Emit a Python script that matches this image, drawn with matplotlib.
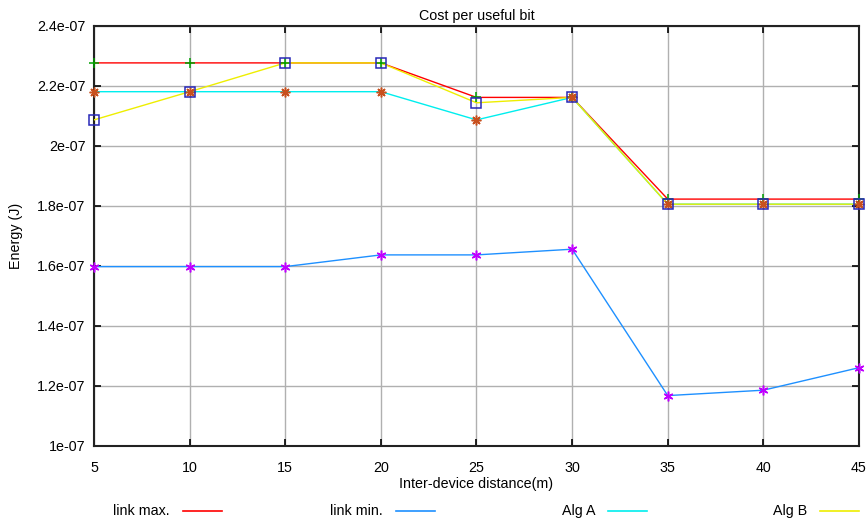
import numpy as np
import matplotlib.pyplot as plt
from matplotlib.lines import Line2D

plt.rcParams['font.family'] = ['Liberation Sans', 'DejaVu Sans']

# distances (m) and energy per useful bit (J)
distance = [5, 10, 15, 20, 25, 30, 35, 40, 45]
link_max = [2.277e-7, 2.277e-7, 2.277e-7, 2.277e-7, 2.162e-7, 2.162e-7, 1.823e-7, 1.823e-7, 1.823e-7]
link_min = [1.598e-7, 1.598e-7, 1.598e-7, 1.637e-7, 1.637e-7, 1.656e-7, 1.168e-7, 1.186e-7, 1.261e-7]
alg_a = [2.181e-7, 2.181e-7, 2.181e-7, 2.181e-7, 2.087e-7, 2.162e-7, 1.806e-7, 1.806e-7, 1.806e-7]
alg_b = [2.087e-7, 2.181e-7, 2.277e-7, 2.277e-7, 2.144e-7, 2.162e-7, 1.806e-7, 1.806e-7, 1.806e-7]

yticks = [1e-7, 1.2e-7, 1.4e-7, 1.6e-7, 1.8e-7, 2e-7, 2.2e-7, 2.4e-7]
ytick_labels = ['1e-07', '1.2e-07', '1.4e-07', '1.6e-07', '1.8e-07', '2e-07', '2.2e-07', '2.4e-07']

# (name, values, line colour, marker, marker colour)
series = [
    ('link max.', link_max, '#ff0000', '+', '#00a000'),
    ('link min.', link_min, '#1e90ff', (6, 2, 0), '#c000ff'),
    ('Alg A', alg_a, '#00eeee', (8, 2, 0), '#c8501e'),
    ('Alg B', alg_b, '#eeee00', 's', '#2828b8'),
]

fs = 10.3

fig = plt.figure(figsize=(8.68, 5.22), dpi=100)
ax = fig.add_axes([0.1083, 0.1456, 0.8813, 0.8046])

for name, vals, lc, mk, mc in series:
    ax.plot(distance, vals, color=lc, lw=1.0, zorder=3)
    ax.plot(distance, vals, ls='none', marker=mk, ms=7, mew=1.1,
            mec=mc, mfc='none', zorder=4, clip_on=False)

ax.set_xlim(5, 45)
ax.set_ylim(1e-7, 2.4e-7)
ax.set_xticks(distance)
ax.set_yticks(yticks)
ax.set_yticklabels(ytick_labels)
ax.grid(True, color='#b0b0b0', lw=1.0)
ax.set_axisbelow(True)
ax.tick_params(direction='in', length=5, width=1.2, labelsize=fs,
               top=True, right=True, labeltop=False, labelright=False)
ax.tick_params(axis='x', pad=11)
ax.tick_params(axis='y', pad=6)
for s in ax.spines.values():
    s.set_linewidth(1.5)
    s.set_color('#222222')

ax.set_title('Cost per useful bit', fontsize=fs, pad=4)
ax.set_xlabel('Inter-device distance(m)', fontsize=fs, labelpad=1)
ax.set_ylabel('Energy (J)', fontsize=fs, labelpad=10)

# key along the bottom: text right-aligned before a short line sample
key_x = [0.1959, 0.4412, 0.6855, 0.9297]
key_y = 1 - 511 / 522
for (name, vals, lc, mk, mc), kx in zip(series, key_x):
    fig.text(kx, key_y, name, ha='right', va='center', fontsize=fs)
    fig.add_artist(Line2D([kx + 0.0145, kx + 0.0594], [key_y, key_y],
                          color=lc, lw=1.2, transform=fig.transFigure))

fig.savefig('out.png', dpi=100)
